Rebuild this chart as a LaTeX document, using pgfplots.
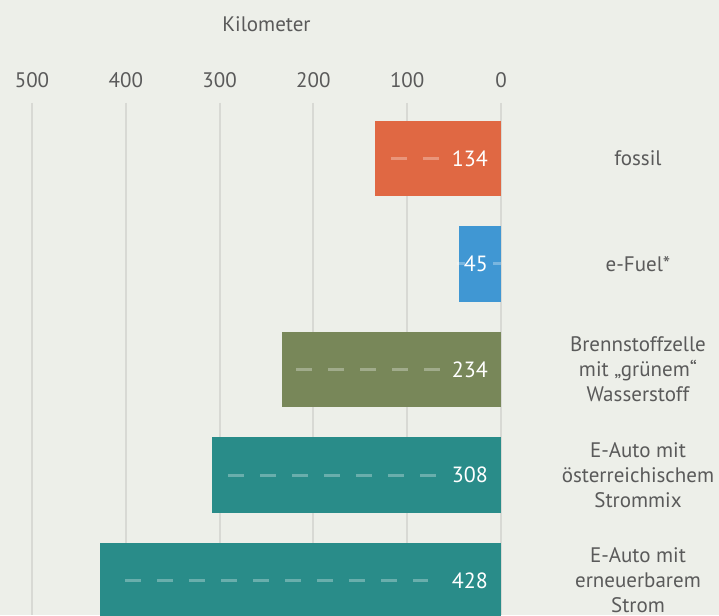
\documentclass[border=0pt]{standalone}
\usepackage{pgfplots}
\pgfplotsset{compat=1.18}
\usepackage{fontspec}
\setmainfont{PT Sans}
\definecolor{bgc}{HTML}{EDEFE9}
\definecolor{gridc}{HTML}{D8D9D4}
\definecolor{textc}{HTML}{5A5A5A}
\definecolor{orangec}{HTML}{E06843}
\definecolor{bluec}{HTML}{4097D3}
\definecolor{greenc}{HTML}{788759}
\definecolor{tealc}{HTML}{298C89}
\begin{document}
\begin{tikzpicture}
\fill[bgc] (0,0) rectangle (719pt,615pt);
\useasboundingbox (0,0) rectangle (719pt,615pt);
\clip (0,0) rectangle (719pt,615pt);
\begin{axis}[
  at={(32pt,0pt)}, anchor=south west,
  width=469pt, height=512pt, scale only axis,
  x dir=reverse, y dir=reverse,
  xmin=0, xmax=500, ymin=-0.526, ymax=4.327,
  xtick={0,100,200,300,400,500},
  xticklabel pos=upper,
  ytick={0,1,2,3,4},
  yticklabel pos=right,
  yticklabels={fossil, e-Fuel*, {Brennstoffzelle\\mit „grünem“\\Wasserstoff}, {E-Auto mit\\österreichischem\\Strommix}, {E-Auto mit\\erneuerbarem\\Strom}},
  major tick length=0pt,
  axis line style={draw=none},
  xmajorgrids, ymajorgrids=false,
  grid style={draw=gridc, line width=2pt},
  tick label style={text=textc, font=\fontsize{21}{25}\selectfont},
  xticklabel style={anchor=center, yshift=23pt},
  yticklabel style={anchor=center, align=center, xshift=137pt},
  /pgf/number format/assume math mode=true,
  xlabel={Kilometer},
  xlabel style={at={(axis description cs:0.5,1)}, anchor=center, yshift=79pt, text=textc, font=\fontsize{21}{25}\selectfont},
  clip=true,
]
\addplot[xbar, bar width=0.716, bar shift=0pt, fill=orangec, draw=none] coordinates {(134,0)};
\addplot[xbar, bar width=0.716, bar shift=0pt, fill=bluec, draw=none] coordinates {(45,1)};
\addplot[xbar, bar width=0.716, bar shift=0pt, fill=greenc, draw=none] coordinates {(234,2)};
\addplot[xbar, bar width=0.716, bar shift=0pt, fill=tealc, draw=none] coordinates {(308,3)};
\addplot[xbar, bar width=0.716, bar shift=0pt, fill=tealc, draw=none] coordinates {(428,4)};
% dashed lines
\addplot[draw=white, draw opacity=0.3, line width=3pt, dash pattern=on 16pt off 16pt, mark=none] coordinates {(117.6,0) (66.3,0)};
\addplot[draw=white, draw opacity=0.3, line width=3pt, mark=none, unbounded coords=jump] coordinates {(46.6,1) (38.1,1) (nan,1) (8.5,1) (0.3,1)};
\addplot[draw=white, draw opacity=0.3, line width=3pt, dash pattern=on 16pt off 16pt, mark=none] coordinates {(218.6,2) (65.2,2)};
\addplot[draw=white, draw opacity=0.3, line width=3pt, dash pattern=on 16pt off 16pt, mark=none] coordinates {(290.7,3) (68.2,3)};
\addplot[draw=white, draw opacity=0.3, line width=3pt, dash pattern=on 16pt off 16pt, mark=none] coordinates {(400.4,4) (78.3,4)};
% value labels
\addplot[draw=none, mark=none, nodes near coords, point meta=explicit symbolic,
  nodes near coords style={anchor=east, text=white, inner sep=0pt, xshift=-13pt, font=\fontsize{22}{26}\selectfont}]
  coordinates {(0,0) [134] (0,1) [45] (0,2) [234] (0,3) [308] (0,4) [428]};
\end{axis}
\end{tikzpicture}
\end{document}
